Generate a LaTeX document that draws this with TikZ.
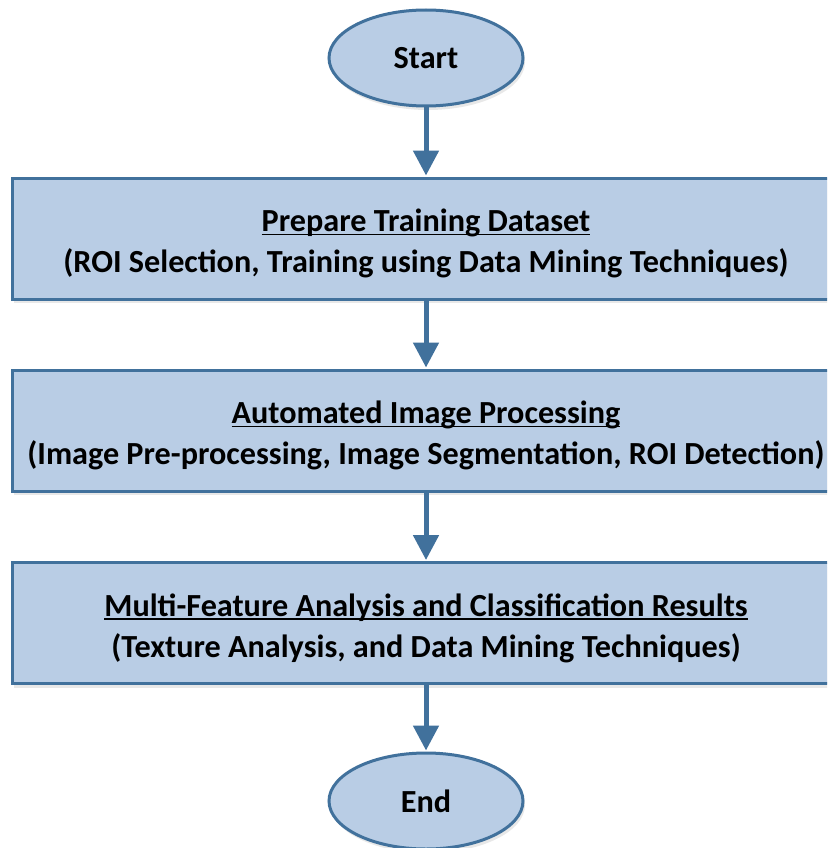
\documentclass[tikz,border=0pt]{standalone}
\usepackage{fontspec}
\setmainfont{Carlito}
\usetikzlibrary{shapes.geometric,arrows.meta,shadows}
\definecolor{fillblue}{HTML}{B9CDE5}
\definecolor{edgeblue}{HTML}{41719C}
\definecolor{arrowblue}{HTML}{41719C}
\newcommand{\toppad}{\rule{0pt}{33pt}}
\newcommand{\wordul}[1]{\setbox0\hbox{#1}\rlap{\rule[-3.6pt]{\wd0}{1.8pt}}\box0}
\begin{document}
\begin{tikzpicture}[x=1pt,y=-1pt,
  every node/.style={font=\fontsize{32.2}{41}\selectfont\bfseries, text=black},
  procbox/.style={draw=edgeblue, line width=3pt, fill=fillblue, align=center,
    minimum width=828pt, minimum height=121pt, inner sep=0pt,
    drop shadow={opacity=0.18, shadow xshift=2pt, shadow yshift=-4pt}},
  termnode/.style={ellipse, draw=edgeblue, line width=3pt, fill=fillblue,
    minimum width=194pt, minimum height=96pt, inner sep=0pt,
    drop shadow={opacity=0.18, shadow xshift=2pt, shadow yshift=-4pt}},
  flow/.style={draw=arrowblue, line width=5pt, -{Triangle[width=25pt,length=25pt]}, shorten >=1pt}
]
\useasboundingbox (0,0) rectangle (827,848);
\clip (0,0) rectangle (827,848);
\fill[white] (0,0) rectangle (827,848);
\node[termnode] (start) at (426,58) {\raisebox{-2pt}{Start}};
\node[procbox] (p1) at (426,238.5) {\toppad\wordul{Prepare Training Dataset}\\(ROI Selection, Training using Data Mining Techniques)};
\node[procbox] (p2) at (426,430.5) {\toppad\wordul{Automated Image Processing}\\(Image Pre-processing, Image Segmentation, ROI Detection)};
\node[procbox] (p3) at (426,623) {\toppad\wordul{Multi-Feature Analysis and Classification Results}\\(Texture Analysis, and Data Mining Techniques)};
\node[termnode] (end) at (426,801) {\raisebox{-2pt}{End}};
\draw[flow] (start) -- (p1);
\draw[flow] (p1) -- (p2);
\draw[flow] (p2) -- (p3);
\draw[flow] (p3) -- (end);
\end{tikzpicture}
\end{document}
